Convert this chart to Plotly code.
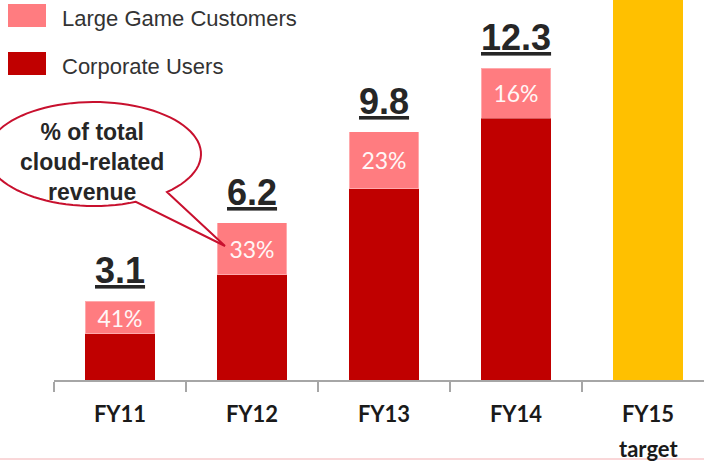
import numpy as np
import plotly.graph_objects as go

# values (cloud-related revenue)
years = ["FY11", "FY12", "FY13", "FY14"]
totals = [3.1, 6.2, 9.8, 12.3]
corporate = [1.83, 4.15, 7.55, 10.33]
large_game = [1.27, 2.05, 2.25, 1.97]
share_labels = ["41%", "33%", "23%", "16%"]
target_year = ["FY15"]
target_value = [20.0]
categories = years + target_year

PINK = "#FF7C80"
RED = "#C00000"
GOLD = "#FFC000"
AXIS = "#A6A6A6"
TEXT = "#262626"

# layout geometry in pixels
W, H = 704, 461
L, T, B = 54, 0, 81
PW = W - L
PH = H - T - B
STEP = 132.0


def pxx(x):
    return (x - L) / PW


def pxy(y):
    return (T + PH - y) / PH


fig = go.Figure()
fig.add_trace(go.Bar(x=years, y=corporate, name="Corporate Users",
                     marker=dict(color=RED, line=dict(width=0))))
fig.add_trace(go.Bar(x=years, y=large_game, name="Large Game Customers",
                     marker=dict(color=PINK, line=dict(color="rgba(255,255,255,0.35)", width=1)),
                     text=share_labels, textposition="inside", insidetextanchor="middle",
                     constraintext="none",
                     textfont=dict(family="Lato", size=23, color="#FFF6F6")))
fig.add_trace(go.Bar(x=target_year, y=target_value, name="FY15 target",
                     marker=dict(color=GOLD, line=dict(width=0))))

# totals above the bars
for yr, tot in zip(years, totals):
    fig.add_annotation(x=yr, y=tot, xref="x", yref="y", text="<b><u>%s</u></b>" % tot,
                       showarrow=False, yanchor="bottom", yshift=8,
                       font=dict(family="Liberation Sans, Arial", size=36, color=TEXT))

fig.add_annotation(x="FY15", y=pxy(448), xref="x", yref="paper", text="target",
                   showarrow=False, yanchor="middle",
                   font=dict(family="Lato", size=22, color="#1A1A1A", weight="bold"))

# legend drawn by hand (big swatches)
shapes = []
for top, color, label in [(4, PINK, "Large Game Customers"), (52, RED, "Corporate Users")]:
    shapes.append(dict(type="rect", xref="paper", yref="paper",
                       x0=pxx(8), x1=pxx(46), y0=pxy(top), y1=pxy(top + 23),
                       fillcolor=color, line=dict(width=0)))
    fig.add_annotation(x=pxx(60), y=pxy(top + 14), xref="paper", yref="paper", text=label,
                       showarrow=False, xanchor="left", yanchor="middle",
                       font=dict(family="Liberation Sans, Arial", size=22, color="#333333"))

# speech bubble
cx, cy, rx, ry = 94, 154, 107, 52
tip = (225, 246)
ang = np.radians(np.linspace(67, 407, 90))
pts = [(cx + rx * np.cos(a), cy + ry * np.sin(a)) for a in ang] + [tip]
path = "M " + " L ".join("%.4f,%.4f" % (pxx(px), pxy(py)) for px, py in pts) + " Z"
shapes.append(dict(type="path", xref="paper", yref="paper", path=path,
                   fillcolor="white", line=dict(color="#C8102E", width=2)))
fig.add_annotation(x=pxx(92), y=pxy(162), xref="paper", yref="paper",
                   text="<b>% of total<br>cloud-related<br>revenue</b>",
                   showarrow=False, xanchor="center", yanchor="middle",
                   font=dict(family="Liberation Sans, Arial", size=23, color=TEXT))

# faint line at the very bottom
shapes.append(dict(type="line", xref="paper", yref="paper", x0=pxx(0), x1=pxx(W),
                   y0=pxy(459), y1=pxy(459), line=dict(color="#FAD6D8", width=2)))

fig.update_layout(
    width=W, height=H,
    margin=dict(l=L, r=0, t=T, b=B),
    plot_bgcolor="white", paper_bgcolor="white",
    barmode="stack", bargap=0.47,
    showlegend=False,
    shapes=shapes,
)
fig.update_xaxes(categoryorder="array", categoryarray=categories,
                 range=[-0.5, -0.5 + PW / STEP],
                 showline=True, linecolor=AXIS, linewidth=1.5,
                 ticks="outside", tickson="boundaries", ticklen=10, tickcolor=AXIS, tickwidth=1.5,
                 ticklabelstandoff=14,
                 tickfont=dict(family="Lato", size=22, color="#1A1A1A", weight="bold"),
                 showgrid=False, zeroline=False, fixedrange=True)
fig.update_yaxes(range=[0, 15.0], visible=False, fixedrange=True)

# drop the browser's default body margin so the figure sits at the window corner
fig.write_html("out.html", config={"displayModeBar": False},
               post_script="document.body.style.margin='0';")
